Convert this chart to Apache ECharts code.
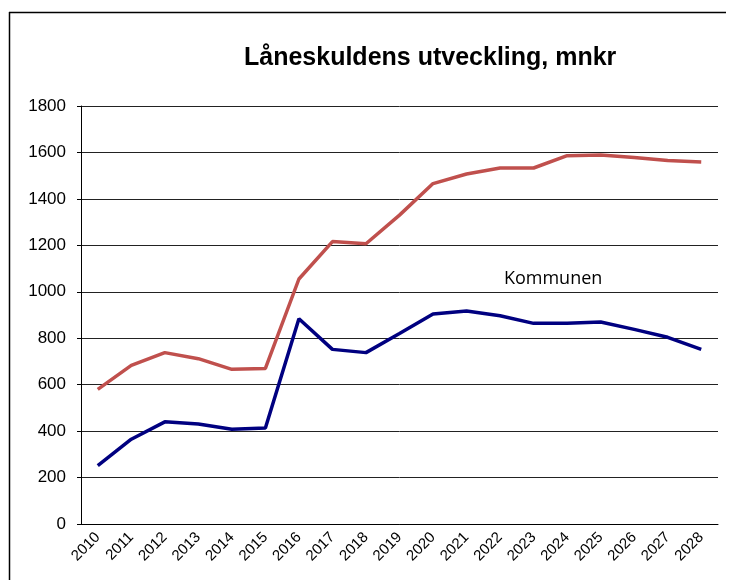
<!DOCTYPE html>
<html><head><meta charset="utf-8">
<script src="https://cdn.jsdelivr.net/npm/echarts@6/dist/echarts.min.js"></script>
<style>html,body{margin:0;padding:0;background:#fff}#c{width:731px;height:580px}</style>
</head><body><div id="c"></div>
<script>
const years = ['2010','2011','2012','2013','2014','2015','2016','2017','2018','2019','2020','2021','2022','2023','2024','2025','2026','2027','2028'];
const kommunen = [251, 365, 440, 431, 408, 413, 884, 752, 738, 820, 904, 917, 897, 864, 864, 870, 838, 804, 752];
const koncernen = [580, 683, 738, 712, 666, 670, 1055, 1216, 1207, 1330, 1466, 1507, 1533, 1533, 1586, 1589, 1578, 1565, 1559];
const yTicks = {min: 0, max: 1800, interval: 200};
const titleText = 'Låneskuldens utveckling, mnkr';
const seriesLabel = 'Kommunen';
const labelAnchor = ['2024', 1055];

const chart = echarts.init(document.getElementById('c'), null, {renderer: 'canvas'});
chart.setOption({
  animation: false,
  backgroundColor: '#fff',
  title: {
    text: titleText, left: 239, top: 41,
    textStyle: {fontFamily: 'Liberation Sans, Arial', fontWeight: 'bold', fontSize: 25, color: '#000'}
  },
  graphic: [
    {type: 'line', shape: {x1: 9, y1: 12.5, x2: 726, y2: 12.5}, style: {stroke: '#000', lineWidth: 1.5}},
    {type: 'line', shape: {x1: 9.5, y1: 12, x2: 9.5, y2: 580}, style: {stroke: '#000', lineWidth: 1.5}}
  ],
  grid: {left: 81, right: 13, top: 106, bottom: 56},
  xAxis: {
    type: 'category', data: years, boundaryGap: true,
    axisLine: {lineStyle: {color: '#000', width: 1}},
    axisTick: {show: false},
    axisLabel: {rotate: 45, fontFamily: 'Liberation Sans, Arial', fontSize: 15, color: '#000', margin: 11, interval: 0}
  },
  yAxis: {
    type: 'value', min: yTicks.min, max: yTicks.max, interval: yTicks.interval,
    axisLine: {show: true, lineStyle: {color: '#000', width: 1}},
    axisTick: {show: true, length: 4, lineStyle: {color: '#000'}},
    splitLine: {lineStyle: {color: '#222', width: 1}},
    axisLabel: {fontFamily: 'Liberation Sans, Arial', fontSize: 17, color: '#000', margin: 15, formatter: v => String(v)}
  },
  series: [
    {
      name: 'Koncernen', type: 'line', data: koncernen, symbol: 'none',
      lineStyle: {color: '#C0504D', width: 3.5}, z: 3
    },
    {
      name: seriesLabel, type: 'line', data: kommunen, symbol: 'none',
      lineStyle: {color: '#000080', width: 3.5}, z: 4,
      markPoint: {
        symbol: 'circle', symbolSize: 10,
        itemStyle: {color: 'rgba(0,0,0,0)'},
        data: [{coord: labelAnchor, value: seriesLabel}],
        label: {show: true, formatter: seriesLabel, fontFamily: 'Open Sans', fontSize: 18, color: '#000', position: 'inside', offset: [-14, 0]}
      }
    }
  ]
});
</script></body></html>
